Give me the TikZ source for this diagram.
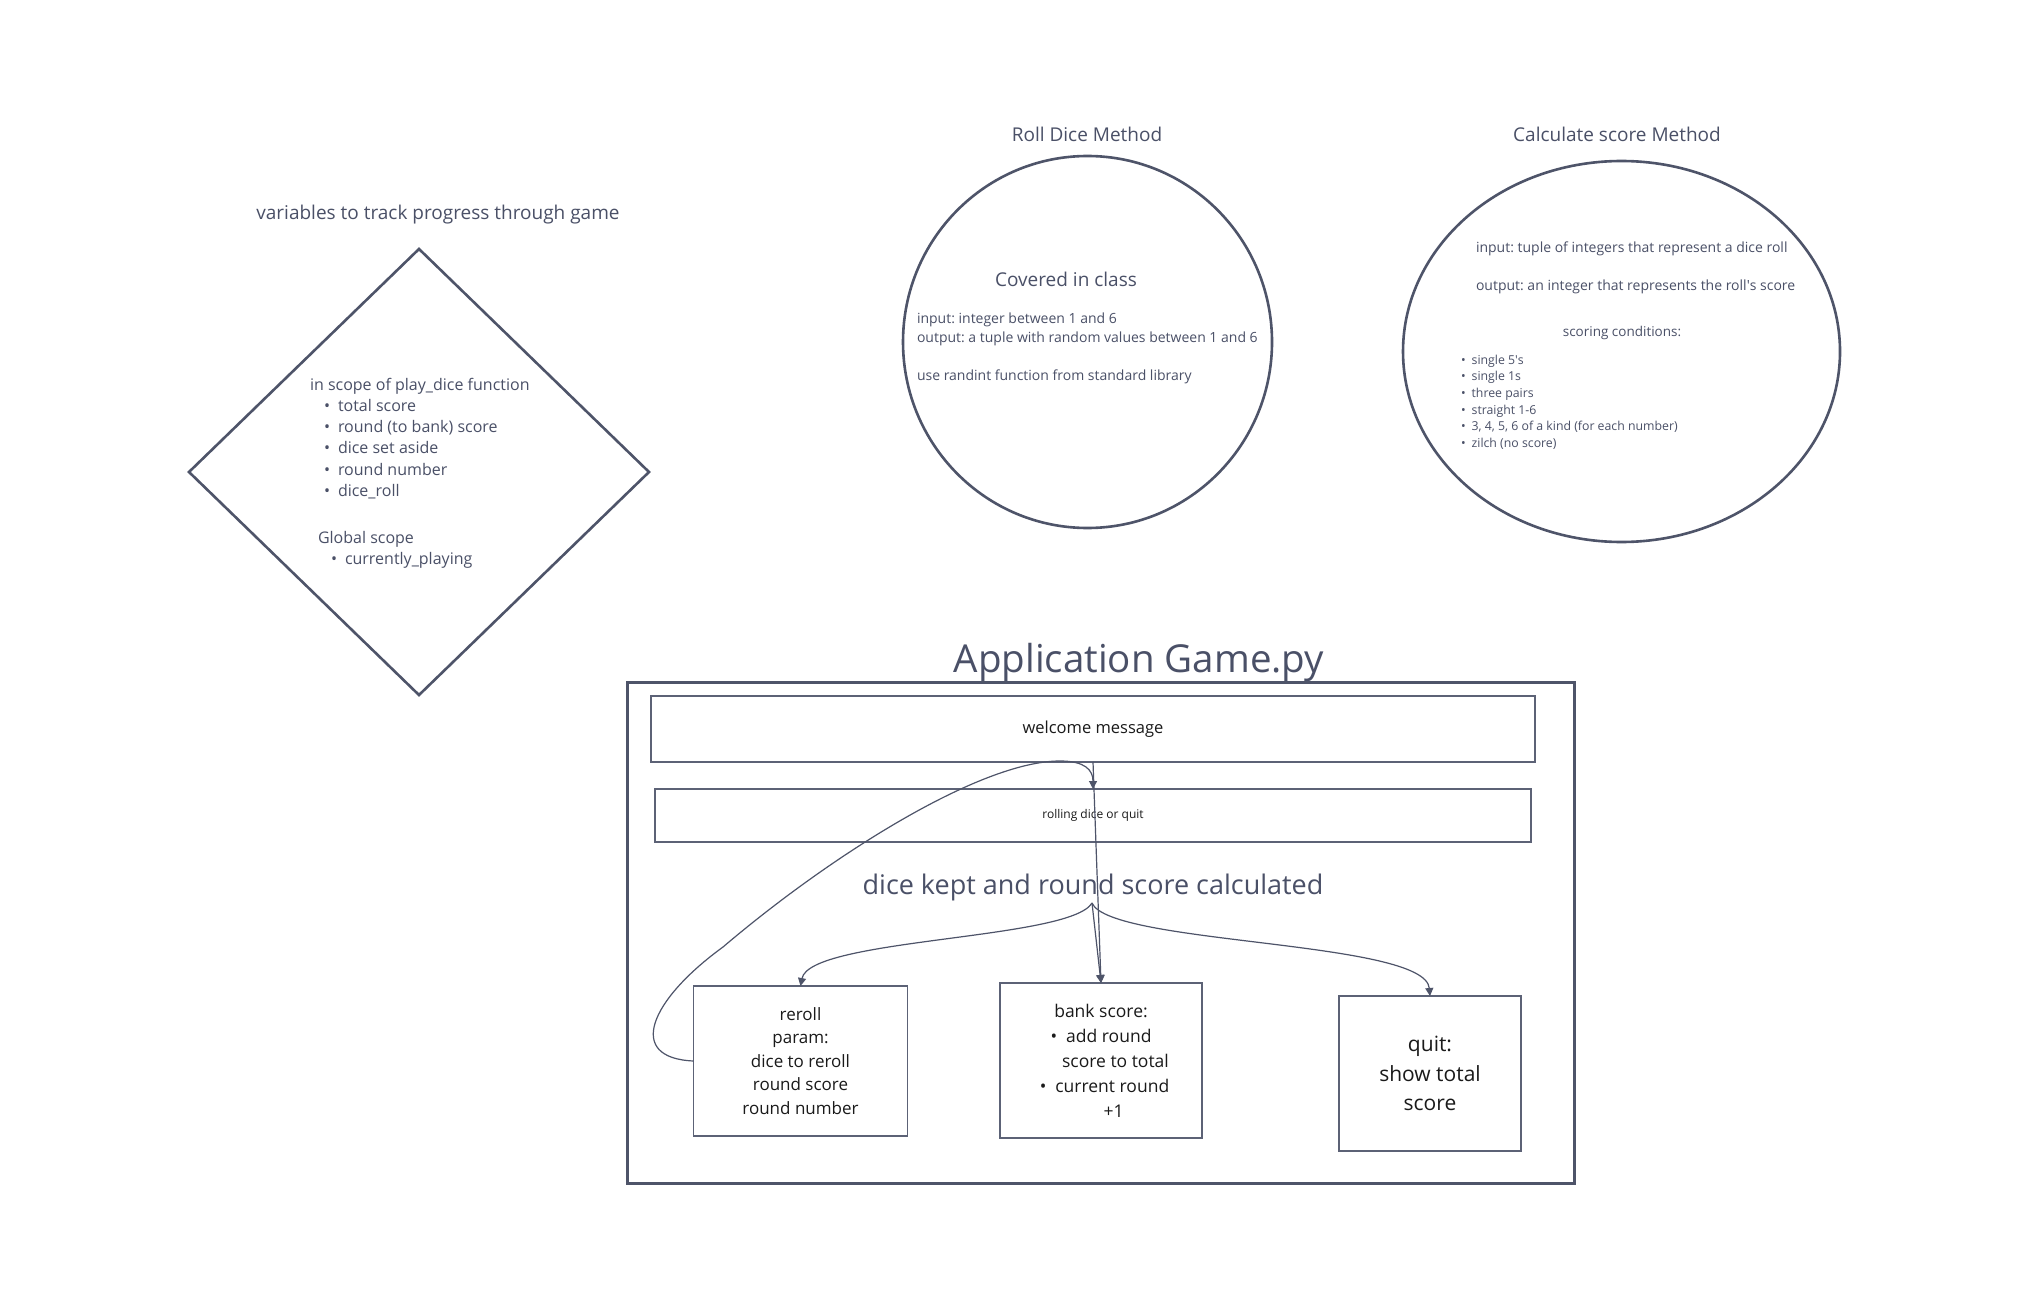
\documentclass[tikz,border=0pt]{standalone}
\usepackage{fontspec}
\setmainfont{Open Sans}
\usetikzlibrary{shapes.geometric,arrows.meta}
\definecolor{slate}{HTML}{4A5067}
\definecolor{edge}{HTML}{4E5469}
\definecolor{boxedge}{HTML}{5C6276}
\definecolor{ink}{HTML}{1A1A1A}
\newcommand{\fs}[2]{\fontsize{#1}{#2}\selectfont}
\newcommand{\bul}{\textbullet}
\begin{document}
\frenchspacing
\begin{tikzpicture}[x=1pt,y=-1pt,
  every node/.style={inner sep=0pt, outer sep=0pt},
  shapeline/.style={draw=edge, line width=2.6pt},
  gbox/.style={draw=boxedge, line width=1.5pt, rectangle},
  conn/.style={draw=edge, line width=1.2pt},
  arr/.style={-{Triangle[length=8pt,width=8pt]}},
  title/.style={font=\fs{19}{23}, text=slate},
  body/.style={text=slate, anchor=north west, align=left}]
\fill[white] (0,0) rectangle (2028,1305);
\useasboundingbox (0,0) rectangle (2028,1305);

% --- variables diamond ---
\node[title] (t1) at (438,215) {variables to track progress through game};
\draw[shapeline] (419,249) -- (649,472) -- (419,695) -- (189,472) -- cycle;
\node[body, font=\fs{16}{21.2}] (vin) at (310,378)
  {in scope of play\_dice function\\
   \hspace*{14pt}\bul\hspace{8pt}total score\\
   \hspace*{14pt}\bul\hspace{8pt}round (to bank) score\\
   \hspace*{14pt}\bul\hspace{8pt}dice set aside\\
   \hspace*{14pt}\bul\hspace{8pt}round number\\
   \hspace*{14pt}\bul\hspace{8pt}dice\_roll};
\node[body, font=\fs{16}{21.2}] (vgl) at (318,531)
  {Global scope\\
   \hspace*{13pt}\bul\hspace{8pt}currently\_playing};

% --- roll dice circle ---
\node[title] (t2) at (1087,134) {Roll Dice Method};
\node[ellipse, shapeline, minimum width=369, minimum height=372] (roll) at (1087.5,342) {};
\node[font=\fs{19}{23}, text=slate] (cov) at (1066,279) {Covered in class};
\node[body, font=\fs{14}{19}] (rin) at (917,313)
  {input: integer between 1 and 6\\
   output: a tuple with random values between 1 and 6\\[19pt]
   use randint function from standard library};

% --- calculate score ellipse ---
\node[title] (t3) at (1617,134) {Calculate score Method};
\node[ellipse, shapeline, minimum width=437, minimum height=381] (calc) at (1621.5,351.5) {};
\node[body, font=\fs{14}{19}] (cin) at (1476,241.5)
  {input: tuple of integers that represent a dice roll\\[19pt]
   output: an integer that represents the roll\textquotesingle s score};
\node[font=\fs{13.5}{16}, text=slate] (cond) at (1622,333) {scoring conditions:};
\node[body, font=\fs{12.3}{16.6}] (clist) at (1461,355)
  {\bul\hspace{6pt}single 5\textquotesingle s\\
   \bul\hspace{6pt}single 1s\\
   \bul\hspace{6pt}three pairs\\
   \bul\hspace{6pt}straight 1-6\\
   \bul\hspace{6pt}3, 4, 5, 6 of a kind (for each number)\\
   \bul\hspace{6pt}zilch (no score)};

% --- application frame ---
\node[font=\fs{38.5}{46}, text=slate] (app) at (1139,662) {Application Game.py};
\node[draw=edge, line width=3pt, minimum width=947, minimum height=501] (frame) at (1100.5,932.5) {};
\node[gbox, minimum width=884, minimum height=66, font=\fs{16.5}{20}, text=ink] (welcome) at (1093,729) {\raisebox{-3pt}{welcome message}};
\node[gbox, minimum width=876, minimum height=53, font=\fs{12}{15}, text=ink] (rolling) at (1093,815.5) {\raisebox{-2pt}{rolling dice or quit}};
\node[font=\fs{27}{32}, text=slate] (kept) at (1093,887) {dice kept and round score calculated};
\node[gbox, minimum width=214, minimum height=150, align=center, font=\fs{17}{23.5}, text=ink] (reroll) at (800.5,1061)
  {reroll\\ param:\\ dice to reroll\\ round score\\ round number};
\node[gbox, minimum width=202, minimum height=155, align=center, font=\fs{17.5}{25}, text=ink] (bank) at (1101,1060.5)
  {bank score:\\
   \bul\hspace{9pt}add round\\
   \hspace*{29pt}score to total\\
   \hspace*{7pt}\bul\hspace{9pt}current round\\
   \hspace*{25pt}+1};
\node[gbox, minimum width=182, minimum height=155, align=center, font=\fs{21}{29.5}, text=ink] (quit) at (1430,1073.5)
  {quit:\\ show total\\ score};

% --- connectors ---
\coordinate (dk) at (1092,903);
\coordinate (lp1) at (723,947);
\coordinate (lp2) at (1060,761);
\draw[conn,arr] (dk) .. controls (1070,940) and (810,938) .. (reroll.north);
\draw[conn,arr] (dk) -- (bank.north);
\draw[conn,arr] (dk) .. controls (1110,945) and (1425,940) .. (quit.north);
\draw[conn,arr] (welcome.south) -- (bank.north);
\draw[conn,arr] (reroll.west) .. controls (625,1058) and (650,1000) .. (lp1)
   .. controls (830,856) and (980,761) .. (lp2)
   .. controls (1085,761) and (1093,770) .. (rolling.north);
\end{tikzpicture}
\end{document}
